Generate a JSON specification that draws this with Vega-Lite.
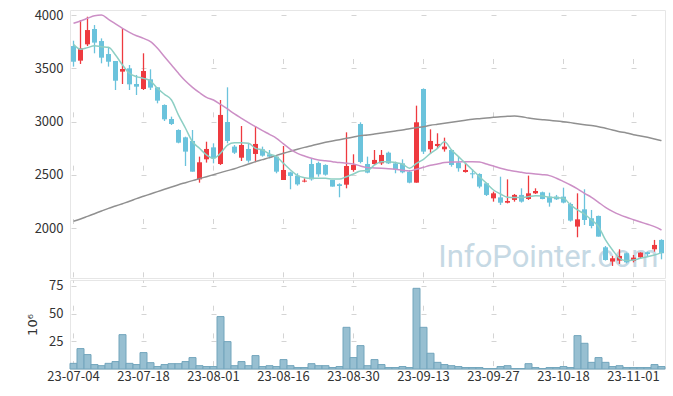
{
  "$schema": "https://vega.github.io/schema/vega-lite/v6.json",
  "background": "white",
  "padding": {"left": 26, "top": 8, "right": 5, "bottom": 5},
  "spacing": 0,
  "config": {
    "view": {"stroke": "#e6e6e6"},
    "axis": {"labelFont": "Noto Sans CJK KR", "labelFontSize": 13, "labelColor": "#333333", "titleFont": "DejaVu Sans", "titleFontSize": 13, "titleFontWeight": "normal", "titleColor": "#333333", "domain": false, "ticks": false, "gridColor": "#d4d4d4", "gridWidth": 1}
  },
  "datasets": {
    "days": [
      {"d":"23-07-04","o":3709,"h":3759,"l":3516,"c":3562,"v":5.1,"m5":3725,"m20":3922,"m60":2066},
      {"d":"23-07-05","o":3572,"h":3953,"l":3541,"c":3688,"v":18.4,"m5":3678,"m20":3944,"m60":2087},
      {"d":"23-07-06","o":3725,"h":3984,"l":3709,"c":3859,"v":13.0,"m5":3694,"m20":3969,"m60":2112},
      {"d":"23-07-07","o":3869,"h":3906,"l":3641,"c":3741,"v":4.0,"m5":3712,"m20":3994,"m60":2137},
      {"d":"23-07-10","o":3756,"h":3781,"l":3547,"c":3600,"v":3.0,"m5":3703,"m20":4000,"m60":2162},
      {"d":"23-07-11","o":3634,"h":3697,"l":3516,"c":3562,"v":5.1,"m5":3697,"m20":3959,"m60":2187},
      {"d":"23-07-12","o":3569,"h":3569,"l":3297,"c":3384,"v":6.7,"m5":3625,"m20":3916,"m60":2209},
      {"d":"23-07-13","o":3469,"h":3875,"l":3353,"c":3494,"v":31.0,"m5":3531,"m20":3875,"m60":2231},
      {"d":"23-07-14","o":3500,"h":3531,"l":3297,"c":3350,"v":5.1,"m5":3453,"m20":3838,"m60":2253},
      {"d":"23-07-17","o":3353,"h":3438,"l":3250,"c":3328,"v":4.0,"m5":3422,"m20":3806,"m60":2278},
      {"d":"23-07-18","o":3306,"h":3641,"l":3297,"c":3475,"v":14.8,"m5":3406,"m20":3781,"m60":2300},
      {"d":"23-07-19","o":3397,"h":3491,"l":3297,"c":3319,"v":5.7,"m5":3381,"m20":3750,"m60":2322},
      {"d":"23-07-20","o":3322,"h":3322,"l":3172,"c":3197,"v":2.2,"m5":3312,"m20":3688,"m60":2344},
      {"d":"23-07-21","o":3156,"h":3162,"l":3006,"c":3022,"v":4.0,"m5":3256,"m20":3609,"m60":2366},
      {"d":"23-07-24","o":3025,"h":3047,"l":2969,"c":2978,"v":4.8,"m5":3203,"m20":3531,"m60":2388},
      {"d":"23-07-25","o":2922,"h":2928,"l":2797,"c":2803,"v":4.8,"m5":3062,"m20":3453,"m60":2409},
      {"d":"23-07-26","o":2853,"h":2859,"l":2584,"c":2719,"v":6.7,"m5":2938,"m20":3381,"m60":2428},
      {"d":"23-07-27","o":2819,"h":2922,"l":2531,"c":2531,"v":10.3,"m5":2812,"m20":3322,"m60":2447},
      {"d":"23-07-28","o":2459,"h":2672,"l":2428,"c":2619,"v":3.0,"m5":2750,"m20":3272,"m60":2466},
      {"d":"23-07-31","o":2647,"h":2812,"l":2616,"c":2744,"v":2.2,"m5":2688,"m20":3228,"m60":2484},
      {"d":"23-08-01","o":2759,"h":2797,"l":2609,"c":2656,"v":2.2,"m5":2656,"m20":3203,"m60":2503},
      {"d":"23-08-02","o":2603,"h":3203,"l":2594,"c":3063,"v":47.3,"m5":2703,"m20":3162,"m60":2522},
      {"d":"23-08-03","o":2997,"h":3322,"l":2797,"c":2819,"v":24.7,"m5":2781,"m20":3119,"m60":2541},
      {"d":"23-08-04","o":2766,"h":2781,"l":2697,"c":2709,"v":3.0,"m5":2803,"m20":3072,"m60":2559},
      {"d":"23-08-07","o":2662,"h":2959,"l":2631,"c":2781,"v":6.7,"m5":2803,"m20":3031,"m60":2581},
      {"d":"23-08-08","o":2744,"h":2797,"l":2616,"c":2634,"v":3.0,"m5":2797,"m20":2991,"m60":2603},
      {"d":"23-08-09","o":2697,"h":2959,"l":2619,"c":2791,"v":12.1,"m5":2750,"m20":2953,"m60":2625},
      {"d":"23-08-10","o":2741,"h":2766,"l":2672,"c":2681,"v":2.2,"m5":2734,"m20":2916,"m60":2644},
      {"d":"23-08-11","o":2694,"h":2734,"l":2656,"c":2672,"v":3.0,"m5":2697,"m20":2881,"m60":2663},
      {"d":"23-08-14","o":2672,"h":2681,"l":2516,"c":2531,"v":2.2,"m5":2672,"m20":2844,"m60":2684},
      {"d":"23-08-16","o":2453,"h":2772,"l":2453,"c":2547,"v":8.5,"m5":2609,"m20":2791,"m60":2703},
      {"d":"23-08-17","o":2525,"h":2531,"l":2366,"c":2491,"v":3.0,"m5":2547,"m20":2741,"m60":2722},
      {"d":"23-08-18","o":2494,"h":2516,"l":2400,"c":2412,"v":1.3,"m5":2494,"m20":2703,"m60":2741},
      {"d":"23-08-21","o":2438,"h":2469,"l":2431,"c":2447,"v":1.3,"m5":2475,"m20":2678,"m60":2759},
      {"d":"23-08-22","o":2603,"h":2650,"l":2447,"c":2459,"v":4.8,"m5":2469,"m20":2656,"m60":2775},
      {"d":"23-08-23","o":2612,"h":2625,"l":2484,"c":2506,"v":3.0,"m5":2469,"m20":2641,"m60":2791},
      {"d":"23-08-24","o":2594,"h":2600,"l":2494,"c":2503,"v":3.0,"m5":2469,"m20":2634,"m60":2806},
      {"d":"23-08-25","o":2453,"h":2453,"l":2391,"c":2391,"v":1.3,"m5":2462,"m20":2625,"m60":2819},
      {"d":"23-08-28","o":2413,"h":2422,"l":2291,"c":2397,"v":2.2,"m5":2462,"m20":2616,"m60":2831},
      {"d":"23-08-29","o":2409,"h":2900,"l":2375,"c":2584,"v":37.6,"m5":2484,"m20":2609,"m60":2844},
      {"d":"23-08-30","o":2547,"h":2694,"l":2531,"c":2594,"v":10.3,"m5":2509,"m20":2603,"m60":2856},
      {"d":"23-08-31","o":2978,"h":2994,"l":2609,"c":2622,"v":21.1,"m5":2538,"m20":2584,"m60":2869},
      {"d":"23-09-01","o":2603,"h":2672,"l":2516,"c":2522,"v":3.0,"m5":2541,"m20":2569,"m60":2875},
      {"d":"23-09-04","o":2603,"h":2734,"l":2594,"c":2641,"v":8.5,"m5":2594,"m20":2566,"m60":2884},
      {"d":"23-09-05","o":2609,"h":2734,"l":2594,"c":2688,"v":4.0,"m5":2625,"m20":2563,"m60":2894},
      {"d":"23-09-06","o":2709,"h":2719,"l":2603,"c":2609,"v":1.3,"m5":2625,"m20":2559,"m60":2903},
      {"d":"23-09-07","o":2609,"h":2625,"l":2516,"c":2553,"v":1.3,"m5":2616,"m20":2553,"m60":2913},
      {"d":"23-09-08","o":2609,"h":2647,"l":2516,"c":2525,"v":2.2,"m5":2603,"m20":2544,"m60":2922},
      {"d":"23-09-11","o":2531,"h":2547,"l":2422,"c":2428,"v":1.3,"m5":2563,"m20":2538,"m60":2934},
      {"d":"23-09-12","o":2428,"h":3150,"l":2428,"c":2994,"v":72.8,"m5":2609,"m20":2553,"m60":2944},
      {"d":"23-09-13","o":3306,"h":3312,"l":2697,"c":2719,"v":37.6,"m5":2647,"m20":2572,"m60":2953},
      {"d":"23-09-14","o":2741,"h":2928,"l":2697,"c":2819,"v":14.2,"m5":2703,"m20":2591,"m60":2966},
      {"d":"23-09-15","o":2772,"h":2891,"l":2750,"c":2791,"v":6.0,"m5":2750,"m20":2603,"m60":2975},
      {"d":"23-09-18","o":2741,"h":2850,"l":2719,"c":2766,"v":4.0,"m5":2812,"m20":2616,"m60":2984},
      {"d":"23-09-19","o":2734,"h":2741,"l":2578,"c":2594,"v":3.0,"m5":2734,"m20":2622,"m60":2994},
      {"d":"23-09-20","o":2616,"h":2672,"l":2531,"c":2563,"v":2.2,"m5":2672,"m20":2622,"m60":3003},
      {"d":"23-09-21","o":2528,"h":2616,"l":2522,"c":2547,"v":1.3,"m5":2609,"m20":2625,"m60":3013},
      {"d":"23-09-22","o":2516,"h":2553,"l":2469,"c":2506,"v":1.3,"m5":2547,"m20":2625,"m60":3022},
      {"d":"23-09-25","o":2509,"h":2516,"l":2375,"c":2391,"v":1.3,"m5":2484,"m20":2622,"m60":3028},
      {"d":"23-09-26","o":2422,"h":2428,"l":2303,"c":2313,"v":0.4,"m5":2422,"m20":2603,"m60":3034},
      {"d":"23-09-27","o":2281,"h":2344,"l":2250,"c":2328,"v":0.4,"m5":2359,"m20":2584,"m60":3041},
      {"d":"23-10-04","o":2290,"h":2484,"l":2219,"c":2240,"v":2.2,"m5":2322,"m20":2563,"m60":3047},
      {"d":"23-10-05","o":2240,"h":2459,"l":2234,"c":2256,"v":3.0,"m5":2291,"m20":2547,"m60":3050},
      {"d":"23-10-06","o":2266,"h":2322,"l":2250,"c":2313,"v":0.4,"m5":2288,"m20":2534,"m60":3053},
      {"d":"23-10-10","o":2313,"h":2375,"l":2241,"c":2250,"v":0.4,"m5":2288,"m20":2525,"m60":3047},
      {"d":"23-10-11","o":2275,"h":2494,"l":2266,"c":2328,"v":4.8,"m5":2297,"m20":2516,"m60":3034},
      {"d":"23-10-12","o":2328,"h":2375,"l":2322,"c":2350,"v":1.3,"m5":2306,"m20":2509,"m60":3025},
      {"d":"23-10-13","o":2338,"h":2344,"l":2272,"c":2275,"v":0.4,"m5":2303,"m20":2503,"m60":3019},
      {"d":"23-10-16","o":2297,"h":2334,"l":2203,"c":2241,"v":1.3,"m5":2291,"m20":2494,"m60":3013},
      {"d":"23-10-17","o":2297,"h":2313,"l":2266,"c":2272,"v":1.3,"m5":2288,"m20":2469,"m60":3006},
      {"d":"23-10-18","o":2297,"h":2381,"l":2234,"c":2241,"v":2.2,"m5":2281,"m20":2438,"m60":3000},
      {"d":"23-10-19","o":2228,"h":2241,"l":2063,"c":2072,"v":1.3,"m5":2219,"m20":2406,"m60":2991},
      {"d":"23-10-20","o":2016,"h":2328,"l":1916,"c":2084,"v":30.1,"m5":2172,"m20":2369,"m60":2981},
      {"d":"23-10-23","o":2178,"h":2366,"l":2031,"c":2078,"v":23.2,"m5":2134,"m20":2328,"m60":2972},
      {"d":"23-10-24","o":2094,"h":2172,"l":2000,"c":2022,"v":6.0,"m5":2078,"m20":2291,"m60":2963},
      {"d":"23-10-25","o":2116,"h":2119,"l":1922,"c":1922,"v":10.3,"m5":2016,"m20":2244,"m60":2953},
      {"d":"23-10-26","o":1822,"h":1834,"l":1697,"c":1703,"v":6.0,"m5":1891,"m20":2197,"m60":2938},
      {"d":"23-10-27","o":1688,"h":1741,"l":1647,"c":1719,"v":2.2,"m5":1797,"m20":2159,"m60":2922},
      {"d":"23-10-30","o":1697,"h":1803,"l":1666,"c":1741,"v":3.0,"m5":1719,"m20":2128,"m60":2906},
      {"d":"23-10-31","o":1766,"h":1772,"l":1672,"c":1681,"v":1.3,"m5":1697,"m20":2103,"m60":2894},
      {"d":"23-11-01","o":1694,"h":1750,"l":1681,"c":1725,"v":1.3,"m5":1703,"m20":2081,"m60":2878},
      {"d":"23-11-02","o":1728,"h":1775,"l":1719,"c":1772,"v":1.3,"m5":1719,"m20":2059,"m60":2866},
      {"d":"23-11-03","o":1775,"h":1781,"l":1734,"c":1759,"v":1.3,"m5":1734,"m20":2038,"m60":2853},
      {"d":"23-11-06","o":1803,"h":1891,"l":1781,"c":1844,"v":4.0,"m5":1750,"m20":2016,"m60":2838},
      {"d":"23-11-07","o":1891,"h":1897,"l":1709,"c":1766,"v":2.2,"m5":1772,"m20":1984,"m60":2822}
    ]
  },
  "vconcat": [
    {
      "width": 595,
      "height": 268,
      "data": {"name": "days"},
      "encoding": {
        "x": {"field": "d", "type": "ordinal", "scale": {"paddingInner": 0, "paddingOuter": 0},
              "axis": {"labels": false, "title": null, "grid": true, "bandPosition": 0.5, "gridDash": [5, 48.33], "gridDashOffset": 4.83,
                       "values": ["23-07-04","23-07-18","23-08-01","23-08-16","23-08-30","23-09-13","23-09-27","23-10-18","23-11-01"]}}
      },
      "layer": [
        {
          "data": {"values": [{"label": "InfoPointer.com"}]},
          "mark": {"type": "text", "font": "Roboto", "fontSize": 31, "fill": "#c6d9e4", "align": "right", "baseline": "alphabetic", "dx": -3},
          "encoding": {
            "x": {"datum": "23-11-07", "type": "ordinal"},
            "y": {"datum": 1637, "type": "quantitative"},
            "text": {"field": "label"}
          }
        },
        {
          "mark": {"type": "rule", "strokeWidth": 1.3},
          "encoding": {
            "y": {"field": "l", "type": "quantitative", "scale": {"domain": [1534, 4047], "zero": false, "nice": false},
                  "axis": {"title": null, "values": [2000, 2500, 3000, 3500, 4000], "format": "d", "labelPadding": 7, "grid": true, "gridDash": [5, 65], "gridDashOffset": 69}},
            "y2": {"field": "h"},
            "color": {"condition": {"test": "datum.c >= datum.o", "value": "#ee3a3f"}, "value": "#6bc3dc"}
          }
        },
        {
          "mark": {"type": "bar", "width": 5},
          "encoding": {
            "y": {"field": "o", "type": "quantitative"},
            "y2": {"field": "c"},
            "color": {"condition": {"test": "datum.c >= datum.o", "value": "#ee3a3f"}, "value": "#6bc3dc"}
          }
        },
        {
          "mark": {"type": "line", "color": "#909090", "strokeWidth": 1.5, "interpolate": "monotone"},
          "encoding": {"y": {"field": "m60", "type": "quantitative"}}
        },
        {
          "mark": {"type": "line", "color": "#cc8fc6", "strokeWidth": 1.5, "interpolate": "monotone"},
          "encoding": {"y": {"field": "m20", "type": "quantitative"}}
        },
        {
          "mark": {"type": "line", "color": "#8dcfc4", "strokeWidth": 1.5, "interpolate": "monotone"},
          "encoding": {"y": {"field": "m5", "type": "quantitative"}}
        }
      ]
    },
    {
      "width": 595,
      "height": 89,
      "data": {"name": "days"},
      "mark": {"type": "bar", "width": {"band": 1}, "fill": "#97bfd1", "stroke": "#72a5bc", "strokeWidth": 1},
      "encoding": {
        "x": {"field": "d", "type": "ordinal", "scale": {"paddingInner": 0, "paddingOuter": 0},
              "axis": {"title": null, "labelAngle": 0, "labelPadding": 1, "grid": true, "bandPosition": 0.5, "gridDash": [5, 22.7], "gridDashOffset": 2.5,
                       "values": ["23-07-04","23-07-18","23-08-01","23-08-16","23-08-30","23-09-13","23-09-27","23-10-18","23-11-01"]}},
        "y": {"field": "v", "type": "quantitative", "scale": {"domain": [0, 80.3], "nice": false},
              "axis": {"title": "10⁶", "values": [25, 50, 75], "labelPadding": 7, "titlePadding": 9, "grid": true, "gridDash": [5, 65], "gridDashOffset": 69}}
      }
    }
  ]
}
